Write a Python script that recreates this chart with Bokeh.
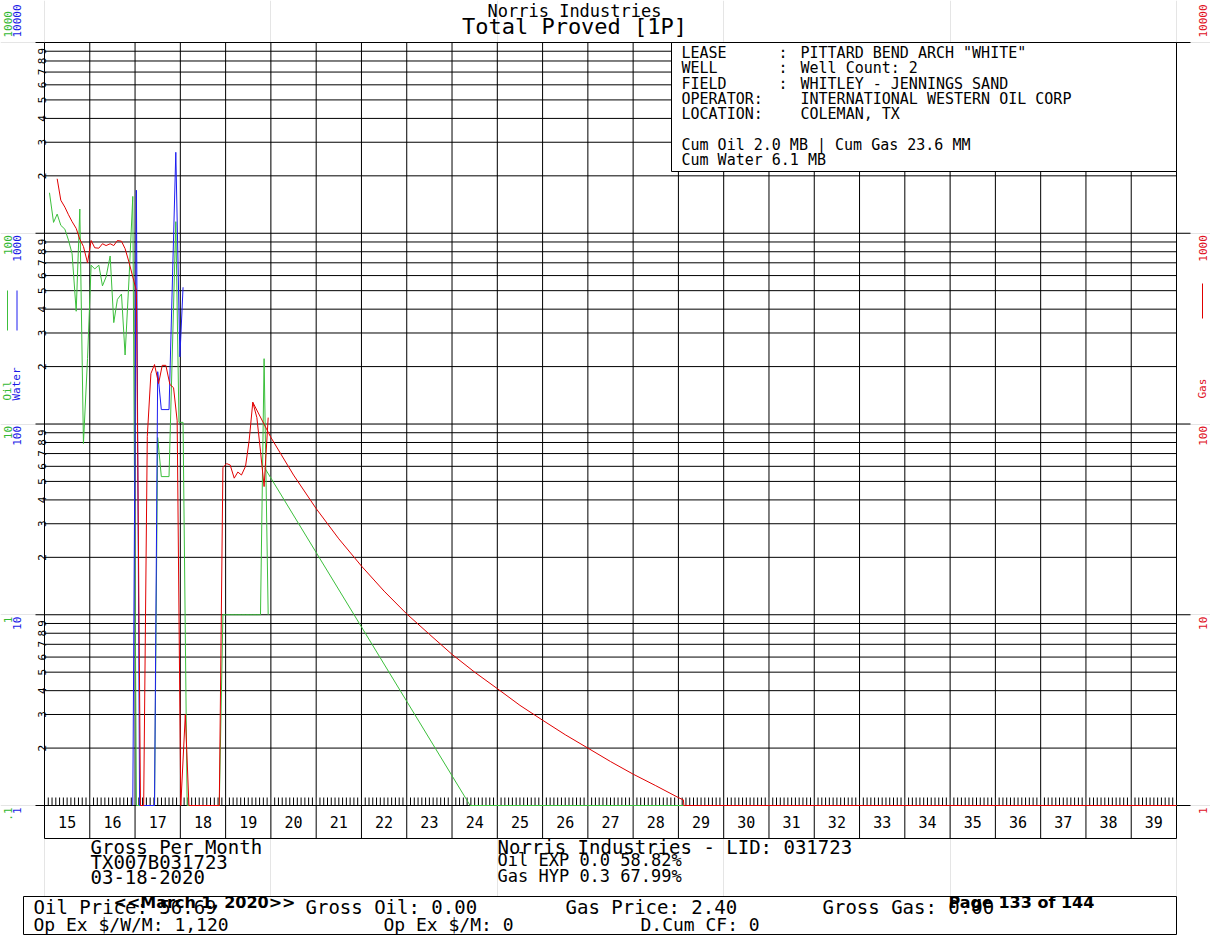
import math
import numpy as np
from bokeh.plotting import figure
from bokeh.models import Range1d, LogScale
from bokeh.core.properties import value
from bokeh.embed import file_html
from bokeh.resources import INLINE

# ---------------- data ----------------
years = [2015, 2016, 2017, 2018, 2019, 2020, 2021, 2022, 2023, 2024, 2025, 2026, 2027,
         2028, 2029, 2030, 2031, 2032, 2033, 2034, 2035, 2036, 2037, 2038, 2039]
year_labels = ["15", "16", "17", "18", "19", "20", "21", "22", "23", "24", "25", "26", "27",
               "28", "29", "30", "31", "32", "33", "34", "35", "36", "37", "38", "39"]

decades = [1, 10, 100, 1000, 10000]
oil_scale_labels = [".1", "1", "10", "100", "1000"]
water_scale_labels = ["1", "10", "100", "1000", "10000"]
gas_scale_labels = ["1", "10", "100", "1000", "10000"]
minor_digits = ["2", "3", "4", "5", "6", "7", "8", "9"]

# oil history (bbl / month)
oil_hist_t = [2015.11, 2015.20, 2015.28, 2015.36, 2015.45, 2015.53, 2015.61, 2015.70, 2015.78,
              2015.86, 2015.95, 2016.03, 2016.11, 2016.20, 2016.28, 2016.36, 2016.45, 2016.53,
              2016.61, 2016.70, 2016.78, 2016.87, 2016.95, 2017.03, 2017.43, 2017.50, 2017.58,
              2017.75, 2017.90, 2017.97, 2018.06, 2018.15, 2018.86, 2018.94, 2019.02, 2019.10,
              2019.19, 2019.27, 2019.35, 2019.44, 2019.52, 2019.60, 2019.69, 2019.77, 2019.85,
              2019.94]
oil_hist_v = [163, 114, 126, 110, 105, 92, 78, 39, 134,
              7.9, 22, 68, 65, 68, 53, 59, 76, 34,
              45, 48, 23, 60, 156, 0, 0, 8.5, 5.3,
              5.3, 115, 10.2, 10.2, 0, 0, 1, 1, 1,
              1, 1, 1, 1, 1, 1, 1, 1, 22,
              1]
# gas history (mcf / month)
gas_hist_t = [2015.28, 2015.36, 2015.45, 2015.53, 2015.61, 2015.70, 2015.78, 2015.86, 2015.95,
              2016.03, 2016.11, 2016.20, 2016.28, 2016.36, 2016.45, 2016.53, 2016.61, 2016.70,
              2016.78, 2016.87, 2016.95, 2017.03, 2017.12, 2017.19, 2017.27, 2017.35, 2017.43,
              2017.52, 2017.60, 2017.68, 2017.77, 2017.85, 2017.93, 2018.01, 2018.11, 2018.19,
              2018.86, 2018.94, 2019.02, 2019.10, 2019.19, 2019.27, 2019.35, 2019.44, 2019.52,
              2019.60, 2019.69, 2019.77, 2019.85, 2019.94]
gas_hist_v = [1930, 1490, 1370, 1250, 1150, 1060, 930, 852, 700,
              916, 839, 835, 881, 862, 881, 862, 916, 908,
              830, 700, 590, 500, 0, 0, 86, 184, 205,
              163, 203, 203, 161, 155, 104, 0, 3.0, 0,
              0, 59, 62, 61, 52, 56, 54, 60, 82,
              130, 108, 72, 47, 108]
# water history (bbl / month)
water_hist_t = [2016.95, 2017.03, 2017.10, 2017.43, 2017.50, 2017.58, 2017.75, 2017.90, 2017.99, 2018.06]
water_hist_v = [0, 1680, 0, 0, 188, 119, 119, 2657, 225, 521]

# forecasts
oil_fc_t = [2019.87, 2024.40, 2040.0]
oil_fc_v = [5.85, 0, 0]
gas_fc_t = [2019.60, 2020.0, 2020.5, 2021.0, 2021.5, 2022.0, 2022.5, 2023.0, 2023.5, 2024.0,
            2024.5, 2025.0, 2025.5, 2026.0, 2026.5, 2027.0, 2027.5, 2028.0, 2028.5, 2029.0,
            2029.11, 2029.12, 2040.0]
gas_fc_v = [130, 85, 54, 36, 25, 18, 13.3, 10.1, 7.9, 6.2,
            5.0, 4.1, 3.35, 2.8, 2.35, 2.0, 1.7, 1.46, 1.27, 1.1,
            1.07, 0, 0]

info_keys = ["LEASE", "WELL", "FIELD", "OPERATOR:", "LOCATION:"]
info_vals = ['PITTARD BEND ARCH "WHITE"', "Well Count: 2", "WHITLEY - JENNINGS SAND",
             "INTERNATIONAL WESTERN OIL CORP", "COLEMAN, TX"]
cum_lines = ["Cum Oil 2.0 MB | Cum Gas 23.6 MM", "Cum Water 6.1 MB"]

# ---------------- styles / layout ----------------
MONO = "DejaVu Sans Mono"
SANS = "DejaVu Sans"
GREEN = "#3cbf3c"
BLUE = "#1c1cf0"
RED = "#e00000"
GREEN_T = "#33b833"
BLUE_T = "#1a1ae6"
RED_T = "#e0101e"
OIL_FLOOR, GAS_FLOOR, WATER_FLOOR = 0.1, 1.0, 1.0

W, H = 1210, 935
CL, CR, CT, C1, CRB = 44, 1176, 42, 805, 838   # chart box in page pixels
DEC = (C1 - CT) / 4                              # px per decade
PXY = (CR - CL) / len(years)                     # px per year


def X(px):
    return years[0] + (px - CL) / PXY


def V(py):
    return 10 ** ((C1 - py) / DEC)


p = figure(width=W, height=H, title=None,
           x_range=Range1d(X(0), X(W)), y_range=Range1d(V(H), V(0)),
           y_axis_type="log", x_axis_location=None, y_axis_location=None,
           output_backend="svg", toolbar_location=None, min_border=0,
           background_fill_color="white", border_fill_color="white")
p.outline_line_color = None
p.extra_y_ranges = {"oil": Range1d(V(H) / 10, V(0) / 10)}
p.extra_y_scales = {"oil": LogScale()}

x_lo, x_hi = years[0], years[-1] + 1

# horizontal grid (1..9 per decade) and decade ticks outside the box
hlines = [d * k for d in decades[:-1] for k in range(1, 10)] + [decades[-1]]
p.segment(x0=[x_lo] * len(hlines), x1=[x_hi] * len(hlines), y0=hlines, y1=hlines,
          line_color="black", line_width=1)
p.segment(x0=[X(35)] * len(decades), x1=[x_lo] * len(decades), y0=decades, y1=decades,
          line_color="black", line_width=1)
p.segment(x0=[x_hi] * len(decades), x1=[X(1190)] * len(decades), y0=decades, y1=decades,
          line_color="black", line_width=1)
# vertical year lines through the year row, and the bottom of the row
vx = years + [x_hi]
p.segment(x0=vx, x1=vx, y0=[V(CRB)] * len(vx), y1=[decades[-1]] * len(vx),
          line_color="black", line_width=1)
p.segment(x0=[x_lo], x1=[x_hi], y0=[V(CRB)], y1=[V(CRB)], line_color="black", line_width=1)

# month ticks on the value-1 line
mt = [years[0] + i / 12 for i in range(1, 12 * len(years)) if i % 12]
p.segment(x0=mt, y0=[1] * len(mt), x1=mt, y1=[V(C1 - 8)] * len(mt),
          line_color="black", line_width=1)

# year labels
p.text(x=[y + 0.5 for y in years], y=[V((C1 + CRB) / 2)] * len(years), text=year_labels,
       text_font=value(MONO), text_font_size="15px", text_align="center",
       text_baseline="middle", text_color="black")

# data lines
p.line(oil_hist_t, np.maximum(oil_hist_v, OIL_FLOOR), y_range_name="oil", line_color=GREEN, line_width=1)
p.line(oil_fc_t, np.maximum(oil_fc_v, OIL_FLOOR), y_range_name="oil", line_color=GREEN, line_width=1)
p.line(water_hist_t, np.maximum(water_hist_v, WATER_FLOOR), line_color=BLUE, line_width=1)
p.line(gas_hist_t, np.maximum(gas_hist_v, GAS_FLOOR), line_color=RED, line_width=1)
p.line(gas_fc_t, np.maximum(gas_fc_v, GAS_FLOOR), line_color=RED, line_width=1)

# info box
p.quad(left=[X(671)], right=[x_hi], top=[decades[-1]], bottom=[V(171)],
       fill_color="white", line_color="black", line_width=1)


def txt(s, px, py, size, color="black", font=MONO, align="left", angle=0.0, style="normal",
        yv=None):
    """py is the baseline (page px); drawn with a centred baseline at cap middle."""
    if yv is None:
        yv = V(py - 0.36 * size)
    p.text(x=[X(px)], y=[yv], text=[s], text_font=value(font),
           text_font_size=f"{size}px", text_color=color, text_align=align,
           text_baseline="middle", angle=angle, text_font_style=value(style))


# titles
txt("Norris Industries", 574, 17, 17, align="center")
txt("Total Proved [1P]", 574, 34, 22, align="center")

# info box text
for k, v, yy in zip(info_keys, info_vals, [58, 73, 89, 104, 119]):
    txt(k, 681, yy, 15)
    if not k.endswith(":"):
        txt(":", 778, yy, 15)
    txt(v, 800, yy, 15)
for line, yy in zip(cum_lines, [150, 165]):
    txt(line, 681, yy, 15)

# minor digits along the left edge
for d in decades[:-1]:
    for k, dg in zip(range(2, 10), minor_digits):
        txt(dg, 41.5, 0, 11, align="center", angle=math.pi / 2, yv=d * k)

# decade labels: oil (green), water (blue), gas (red)
for i, d in enumerate(decades):
    top = i == len(decades) - 1
    yv = d * 10 ** (5 / DEC) if top else d * 10 ** (-2 / DEC)
    al = "left" if top else "right"
    txt(oil_scale_labels[i], 7, 0, 11, GREEN_T, align=al, angle=math.pi / 2, yv=yv)
    txt(water_scale_labels[i], 16, 0, 11, BLUE_T, align=al, angle=math.pi / 2, yv=yv)
    txt(gas_scale_labels[i], 1202, 0, 11, RED_T, align=al, angle=math.pi / 2, yv=yv)

# series legends on the sides
txt("Oil", 7, 0, 11, GREEN_T, angle=math.pi / 2, yv=V(400))
txt("Water", 16, 0, 11, BLUE_T, angle=math.pi / 2, yv=V(400))
txt("Gas", 1202, 0, 11, RED_T, angle=math.pi / 2, yv=V(398))
p.segment(x0=[X(7), X(16.5), X(1202)], x1=[X(7), X(16.5), X(1202)],
          y0=[V(290), V(290), V(283)], y1=[V(330), V(330), V(318)],
          line_color=[GREEN, BLUE, RED], line_width=1)

# footer
txt("Gross Per Month", 90, 853, 19)
txt("TX007B031723", 90, 868, 19)
txt("03-18-2020", 90, 883, 19)
txt("Norris Industries - LID: 031723", 497, 853, 19)
txt("Oil EXP 0.0 58.82%", 497, 866, 17)
txt("Gas HYP 0.3 67.99%", 497, 882, 17)

p.quad(left=[X(23)], right=[x_hi], top=[V(896)], bottom=[V(934)],
       fill_color="white", line_color="black", line_width=1)
for s, xx in [("Oil Price: 56.69", 33), ("Gross Oil: 0.00", 305),
              ("Gas Price: 2.40", 565), ("Gross Gas: 0.00", 822)]:
    txt(s, xx, 913, 19)
for s, xx in [("Op Ex $/W/M: 1,120", 33), ("Op Ex $/M: 0", 383), ("D.Cum CF: 0", 640)]:
    txt(s, xx, 930, 18)
txt("<<March 1, 2020>>", 113, 908, 16, font=SANS, style="bold")
txt("Page 133 of 144", 948, 908, 16, font=SANS, style="bold")

open("out.html", "w").write(file_html(p, INLINE))
